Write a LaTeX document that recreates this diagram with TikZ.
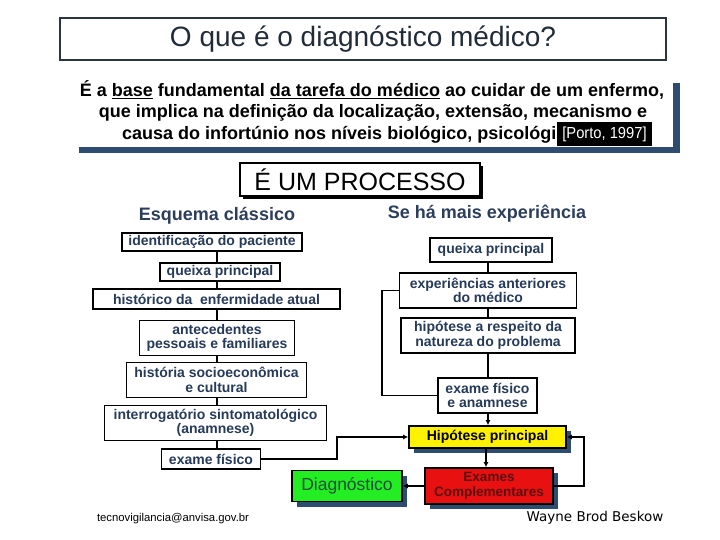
\documentclass[tikz,border=0pt]{standalone}
\usepackage{fontspec}
\setmainfont{Liberation Sans}
\newfontfamily\dejavu{DejaVu Sans}
\usetikzlibrary{arrows.meta,shadows}
\definecolor{titletext}{HTML}{222C38}
\definecolor{framecol}{HTML}{2B3541}
\definecolor{shadowblue}{HTML}{2E4B70}
\definecolor{headblue}{HTML}{2C3E5C}
\definecolor{boxtext}{HTML}{263A5A}
\definecolor{diaggreen}{HTML}{22EE22}
\definecolor{diagtext}{HTML}{1D4D3D}
\definecolor{exred}{HTML}{E81010}
\definecolor{extext}{HTML}{5A0F0F}
\begin{document}
\begin{tikzpicture}[x=1pt,y=-1pt,
  bx/.style n args={2}{draw=black, line width=1.6pt, fill=white, text=boxtext,
    font=\bfseries\fontsize{14}{14.5}\selectfont, align=center, inner sep=0pt,
    minimum width=#1, minimum height=#2},
  conn/.style={draw=black, line width=1.6pt},
  arr/.style={conn, -{Latex[length=5pt,width=5pt]}},
  head/.style={font=\bfseries\fontsize{18}{20}\selectfont, text=headblue},
  deftext/.style={font=\bfseries\fontsize{18}{20}\selectfont, text=black, inner sep=0pt},
  bshadow/.style={drop shadow={shadow xshift=5pt, shadow yshift=-5pt, fill=shadowblue, opacity=1}}
]
\useasboundingbox (0,0) rectangle (720,540);
\fill[white] (0,0) rectangle (720,540);

% title
\node[draw=framecol, line width=1.5pt, minimum width=606pt, minimum height=42pt,
  font=\fontsize{28}{32}\selectfont, text=titletext] (title) at (363,39) {O que é o diagnóstico médico?};

% definition
\fill[shadowblue] (79,83) rectangle (680,153);
\fill[white] (72,76) rectangle (673,147);
\node[deftext] (d1) at (372,90) {É a \underline{base} fundamental \underline{da tarefa do médico} ao cuidar de um enfermo,};
\node[deftext] (d2) at (373,113) {que implica na definição da localização, extensão, mecanismo e};
\node[deftext, anchor=west] (d3) at (122,135) {causa do infortúnio nos níveis biológico, psicológico};
\node[fill=black, text=white, inner sep=0pt, minimum width=95pt, minimum height=24pt,
  font=\fontsize{16}{18}\selectfont] (porto) at (604.5,134) {\scalebox{0.92}[1]{[Porto, 1997]}};

% processo
\fill[black] (243,166) rectangle (483,199);
\node[draw=black, line width=2pt, fill=white, minimum width=240pt, minimum height=33pt,
  font=\fontsize{25}{28}\selectfont] (proc) at (360,179.5) {É UM PROCESSO};

\node[head] (esq) at (217,216) {Esquema clássico};
\node[head] (se) at (487,214) {Se há mais experiência};

% helper coordinates
\coordinate (vx) at (217,0);
\coordinate (rx) at (488,0);
\coordinate (lx) at (382,0);
\coordinate (mx) at (337,0);
\coordinate (fx) at (584,0);
\coordinate (hx) at (486,0);

% left column
\node[bx={180pt}{18pt}] (idp) at (212,242) {identificação do paciente};
\node[bx={120pt}{18pt}] (qp1) at (220,272) {queixa principal};
\node[bx={247pt}{20pt}] (hist) at (216.5,299) {histórico da\ \ enfermidade atual};
\node[bx={155pt}{35pt}] (ante) at (217,338) {antecedentes\\pessoais e familiares};
\node[bx={180pt}{35pt}] (socio) at (216.5,380) {história socioeconômica\\e cultural};
\node[bx={222pt}{35pt}] (inter) at (215.5,423) {interrogatório sintomatológico\\(anamnese)};
\node[bx={99pt}{20pt}] (exf) at (211,459) {exame físico};

\draw[conn] (idp.south -| vx) -- (qp1.north -| vx);
\draw[conn] (qp1.south -| vx) -- (hist.north -| vx);
\draw[conn] (hist.south -| vx) -- (ante.north -| vx);
\draw[conn] (ante.south -| vx) -- (socio.north -| vx);
\draw[conn] (socio.south -| vx) -- (inter.north -| vx);
\draw[conn] (inter.south -| vx) -- (exf.north -| vx);

% right column
\node[bx={122pt}{24pt}] (qp2) at (491,250) {queixa principal};
\node[bx={177pt}{35pt}] (exp) at (488,290.5) {experiências anteriores\\do médico};
\node[bx={174pt}{35pt}] (hip) at (488,335.5) {hipótese a respeito da\\natureza do problema};
\node[bx={99pt}{35pt}] (efa) at (487.5,395.5) {exame físico\\e anamnese};
\node[bx={157pt}{22pt}, fill=yellow, text=black, font=\bfseries\fontsize{14}{15}\selectfont, bshadow] (hp) at (487.5,437) {Hipótese principal};
\node[bx={128pt}{36pt}, fill=exred, text=extext, font=\bfseries\fontsize{13.5}{14.5}\selectfont, bshadow] (ec) at (489,486) {Exames\\Complementares};
\node[bx={110pt}{31pt}, fill=diaggreen, text=diagtext, font=\fontsize{17.5}{19}\selectfont, bshadow] (dg) at (347,486) {Diagnóstico};

\draw[conn] (qp2.south -| rx) -- (exp.north -| rx);
\draw[conn] (exp.south -| rx) -- (hip.north -| rx);
\draw[conn] (hip.south -| rx) -- (efa.north -| rx);
\draw[arr] (efa.south -| rx) -- (hp.north -| rx);
\draw[conn] (exp.west) -- (exp.west -| lx) -- (efa.west -| lx) -- (efa.west);
\draw[arr] (exf.east) -- (exf.east -| mx) -- (hp.west -| mx) -- (hp.west);
\draw[arr] (hp.south -| hx) -- (ec.north -| hx);
\draw[arr] (ec.east) -- (ec.east -| fx) -- (hp.east -| fx) -- (hp.east);
\draw[arr] (ec.west) -- (dg.east);

% footer
\node[font=\fontsize{11.3}{13}\selectfont] (mail) at (173,519) {tecnovigilancia@anvisa.gov.br};
\node[font=\dejavu\fontsize{13.5}{15}\selectfont] (auth) at (595,518) {Wayne Brod Beskow};
\end{tikzpicture}
\end{document}
